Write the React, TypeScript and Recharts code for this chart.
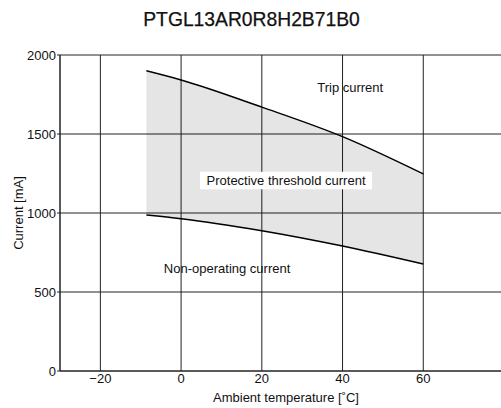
import React from "react";
import {
  ComposedChart,
  Area,
  Line,
  XAxis,
  YAxis,
  CartesianGrid,
  ReferenceDot,
  Label,
} from "recharts";

const temperatures = [-8.6, 0, 20, 40, 60];
const tripCurrent = [1900, 1842, 1670, 1483, 1247];
const nonOperatingCurrent = [987, 964, 888, 791, 677];
const xTicks = [-20, 0, 20, 40, 60];
const yTicks = [0, 500, 1000, 1500, 2000];

const data = temperatures.map((t, i) => ({
  t,
  trip: tripCurrent[i],
  nonop: nonOperatingCurrent[i],
  range: [nonOperatingCurrent[i], tripCurrent[i]],
}));

const FONT = "'Liberation Sans', Arial, sans-serif";

const makeTextLabel = (text: string, boxed: boolean) => (props: any) => {
  const vb = props.viewBox || {};
  const cx = (vb.x ?? 0) + (vb.width ?? 0) / 2;
  const cy = (vb.y ?? 0) + (vb.height ?? 0) / 2;
  return (
    <g>
      {boxed && (
        <rect x={cx - 86} y={cy - 9} width={172} height={17.5} fill="#fff" />
      )}
      <text
        x={cx}
        y={cy}
        textAnchor="middle"
        dominantBaseline="central"
        fontSize={13}
        fontFamily={FONT}
        fill="#111"
      >
        {text}
      </text>
    </g>
  );
};

export default function App() {
  return (
    <div
      style={{
        position: "absolute",
        left: 0,
        top: 0,
        width: 501,
        height: 408,
        overflow: "hidden",
        background: "#fff",
      }}
    >
      <div
        style={{
          position: "absolute",
          left: 0,
          top: 9,
          width: 503,
          textAlign: "center",
          fontFamily: FONT,
          fontSize: 19.3,
          lineHeight: "22px",
          color: "#111",
          WebkitTextStroke: "0.25px #111",
        }}
      >
        PTGL13AR0R8H2B71B0
      </div>
      <ComposedChart
        width={520}
        height={408}
        data={data}
        margin={{ top: 55, right: 16, bottom: 0, left: 0 }}
        style={{ fontFamily: FONT }}
      >
        <CartesianGrid stroke="#222" strokeWidth={1} />
        <XAxis
          dataKey="t"
          type="number"
          domain={[-30, 80]}
          ticks={xTicks}
          height={37}
          axisLine={{ stroke: "#222" }}
          tickLine={false}
          tickSize={0}
          tick={{ fontSize: 13, fill: "#111", fontFamily: FONT }}
          tickFormatter={(v: number) => (v < 0 ? "\u2212" + Math.abs(v) : String(v))}
          tickMargin={3}
        >
          <Label
            content={(props: any) => {
              const vb = props.viewBox || {};
              return (
                <text
                  x={(vb.x ?? 0) + (vb.width ?? 0) / 2 + 4}
                  y={(vb.y ?? 0) + 26}
                  textAnchor="middle"
                  dominantBaseline="central"
                  fontSize={13}
                  fontFamily={FONT}
                  fill="#111"
                >
                  Ambient temperature [˚C]
                </text>
              );
            }}
          />
        </XAxis>
        <YAxis
          type="number"
          domain={[0, 2000]}
          ticks={yTicks}
          width={60}
          axisLine={{ stroke: "#222" }}
          tickSize={3}
          tickLine={{ stroke: "#222" }}
          tick={{ fontSize: 13, fill: "#111", fontFamily: FONT }}
          tickMargin={1}
        >
          <Label
            content={(props: any) => {
              const vb = props.viewBox || {};
              const x = (vb.x ?? 0) + 18;
              const y = (vb.y ?? 0) + (vb.height ?? 0) / 2;
              return (
                <text
                  x={x}
                  y={y}
                  transform={`rotate(-90, ${x}, ${y})`}
                  textAnchor="middle"
                  dominantBaseline="central"
                  fontSize={13}
                  fontFamily={FONT}
                  fill="#111"
                >
                  Current [mA]
                </text>
              );
            }}
          />
        </YAxis>
        <Area
          dataKey="range"
          type="monotone"
          fill="#000"
          fillOpacity={0.1}
          stroke="none"
          isAnimationActive={false}
        />
        <Line
          dataKey="trip"
          type="monotone"
          stroke="#000"
          strokeWidth={1.4}
          dot={false}
          activeDot={false}
          isAnimationActive={false}
        />
        <Line
          dataKey="nonop"
          type="monotone"
          stroke="#000"
          strokeWidth={1.4}
          dot={false}
          activeDot={false}
          isAnimationActive={false}
        />
        <ReferenceDot
          x={41.9}
          y={1796}
          r={0}
          stroke="none"
          fill="none"
          label={makeTextLabel("Trip current", false)}
        />
        <ReferenceDot
          x={26}
          y={1204}
          r={0}
          stroke="none"
          fill="none"
          label={makeTextLabel("Protective threshold current", true)}
        />
        <ReferenceDot
          x={11.4}
          y={650}
          r={0}
          stroke="none"
          fill="none"
          label={makeTextLabel("Non-operating current", false)}
        />
      </ComposedChart>
    </div>
  );
}
